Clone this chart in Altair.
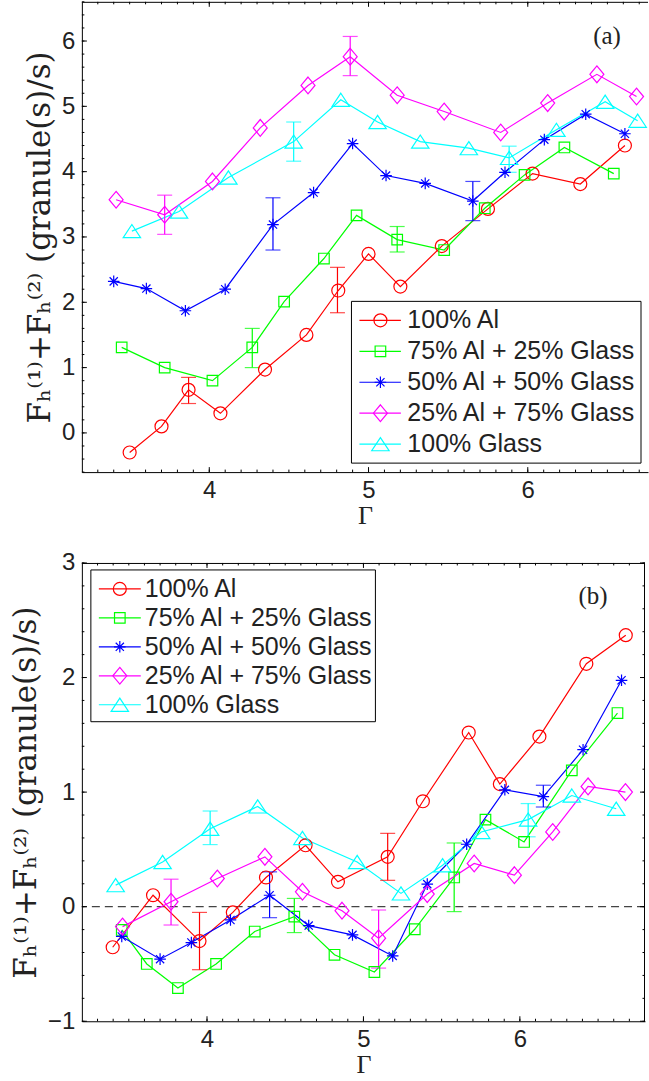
import altair as alt
import pandas as pd
import numpy as np

# ---------------- data ----------------
names = ["100% Al", "75% Al + 25% Glass", "50% Al + 50% Glass",
         "25% Al + 75% Glass", "100% Glass"]
colors = ["#ff0000", "#00ff00", "#0000ff", "#ff00ff", "#00ffff"]

# panel (a)
a_al_x = [3.50, 3.70, 3.87, 4.07, 4.35, 4.61, 4.81, 5.00, 5.20, 5.46, 5.75, 6.03, 6.33, 6.61]
a_al_y = [-0.30, 0.10, 0.66, 0.30, 0.97, 1.50, 2.18, 2.74, 2.24, 2.86, 3.43, 3.97, 3.81, 4.40]
a_g25_x = [3.45, 3.72, 4.02, 4.27, 4.47, 4.72, 4.925, 5.18, 5.475, 5.73, 5.98, 6.23, 6.54]
a_g25_y = [1.31, 1.00, 0.80, 1.31, 2.01, 2.67, 3.33, 2.96, 2.80, 3.44, 3.95, 4.37, 3.97]
a_g50_x = [3.40, 3.605, 3.85, 4.10, 4.40, 4.655, 4.90, 5.11, 5.356, 5.655, 5.857, 6.104, 6.364, 6.61]
a_g50_y = [2.32, 2.21, 1.87, 2.20, 3.19, 3.68, 4.43, 3.94, 3.82, 3.55, 3.99, 4.49, 4.88, 4.58]
a_g75_x = [3.415, 3.72, 4.02, 4.32, 4.62, 4.885, 5.18, 5.475, 5.83, 6.125, 6.434, 6.683]
a_g75_y = [3.57, 3.34, 3.85, 4.67, 5.32, 5.76, 5.17, 4.92, 4.60, 5.05, 5.49, 5.15]
a_gl_x = [3.514, 3.81, 4.12, 4.53, 4.826, 5.057, 5.325, 5.63, 5.883, 6.18, 6.486, 6.69]
a_gl_y = [3.09, 3.39, 3.91, 4.46, 5.10, 4.76, 4.46, 4.36, 4.21, 4.64, 5.07, 4.78]

a_err_series = [names[0], names[0], names[1], names[1], names[2], names[2],
                names[3], names[3], names[4], names[4]]
a_err_x = [3.87, 4.805, 4.27, 5.18, 4.40, 5.655, 3.72, 4.885, 4.53, 5.883]
a_err_lo = [0.45, 1.84, 1.00, 2.77, 2.80, 3.25, 3.04, 5.47, 4.16, 3.99]
a_err_hi = [0.85, 2.535, 1.60, 3.16, 3.60, 3.85, 3.64, 6.07, 4.76, 4.39]

# panel (b)
b_al_x = [3.397, 3.655, 3.952, 4.165, 4.377, 4.63, 4.837, 5.155, 5.38, 5.673, 5.872, 6.125, 6.425, 6.677]
b_al_y = [-0.354, 0.10, -0.30, -0.05, 0.255, 0.536, 0.217, 0.435, 0.92, 1.52, 1.07, 1.485, 2.12, 2.37]
b_g25_x = [3.455, 3.615, 3.814, 4.058, 4.305, 4.558, 4.815, 5.07, 5.328, 5.58, 5.78, 6.027, 6.332, 6.624]
b_g25_y = [-0.203, -0.50, -0.71, -0.50, -0.217, -0.087, -0.42, -0.57, -0.197, 0.255, 0.76, 0.565, 1.19, 1.69]
b_g50_x = [3.455, 3.70, 3.90, 4.15, 4.40, 4.65, 4.93, 5.187, 5.408, 5.66, 5.904, 6.15, 6.404, 6.65]
b_g50_y = [-0.26, -0.458, -0.313, -0.116, 0.10, -0.165, -0.246, -0.43, 0.197, 0.545, 1.02, 0.96, 1.37, 1.976]
b_g75_x = [3.46, 3.77, 4.066, 4.37, 4.61, 4.863, 5.097, 5.408, 5.708, 5.965, 6.21, 6.436, 6.675]
b_g75_y = [-0.174, 0.043, 0.246, 0.435, 0.13, -0.035, -0.275, 0.11, 0.377, 0.275, 0.652, 1.05, 1.00]
b_gl_x = [3.416, 3.716, 4.02, 4.324, 4.61, 4.96, 5.24, 5.506, 5.753, 6.053, 6.332, 6.616]
b_gl_y = [0.188, 0.39, 0.68, 0.875, 0.60, 0.39, 0.116, 0.362, 0.652, 0.76, 0.97, 0.855]

b_err_series = a_err_series
b_err_x = [3.952, 5.155, 4.558, 5.58, 4.40, 6.15, 3.77, 5.097, 4.02, 6.053]
b_err_lo = [-0.55, 0.23, -0.226, -0.043, -0.096, 0.87, -0.16, -0.536, 0.542, 0.61]
b_err_hi = [-0.05, 0.64, 0.072, 0.556, 0.304, 1.06, 0.24, -0.029, 0.835, 0.90]

zero_ref = [0.0]
x_major = [4, 5, 6]
a_y_major = [0, 1, 2, 3, 4, 5, 6]
b_y_major = [-1, 0, 1, 2, 3]
panel_tags = ["(a)", "(b)"]
y_title = "Fₕ⁽¹⁾+Fₕ⁽²⁾  (granule(s)/s)"
x_title = "Γ"

# ---------------- styles ----------------
# marker outlines in units of 10 px (symbol size 400)
CIRC = "M0.65,0A0.65,0.65 0 1,1 -0.65,0A0.65,0.65 0 1,1 0.65,0Z"
SQR = "M-0.53,-0.53L0.53,-0.53L0.53,0.53L-0.53,0.53Z"
STAR = "M-0.58,0L0.58,0M0,-0.58L0,0.58M-0.41,-0.41L0.41,0.41M-0.41,0.41L0.41,-0.41"
DIAM = "M0,-0.84L0.70,0L0,0.84L-0.70,0Z"
TRI = "M0,-0.66L0.87,0.66L-0.87,0.66Z"
shapes = [CIRC, SQR, STAR, DIAM, TRI]
MSIZE = 400

SANS = "Liberation Sans"
SERIF = "DejaVu Serif"

col = alt.Color("series:N", scale=alt.Scale(domain=names, range=colors), legend=None)
shp = alt.Shape("series:N", scale=alt.Scale(domain=names, range=shapes), legend=None)


def long_df(xs_list, ys_list):
    rows = []
    for n, xs, ys in zip(names, xs_list, ys_list):
        for x, y in zip(xs, ys):
            rows.append({"series": n, "g": x, "v": y})
    return pd.DataFrame(rows)


def make_panel(df, err, ydom, yvals, W, H, xmax, tag, tagxy, leg, right_frame, zero):
    xs = alt.Scale(domain=[3.2, xmax], nice=False, zero=False)
    ys = alt.Scale(domain=ydom, nice=False, zero=False)
    xaxis = alt.Axis(values=x_major, title=x_title, format="d")
    yaxis = alt.Axis(values=yvals, title=y_title, format="d")

    def X(f):
        return alt.X(f, type="quantitative", scale=xs, axis=xaxis)

    def Y(f):
        return alt.Y(f, type="quantitative", scale=ys, axis=yaxis)

    base = alt.Chart(df)
    lines = base.mark_line(strokeWidth=1.2).encode(x=X("g"), y=Y("v"), color=col)
    pts = base.mark_point(filled=False, strokeWidth=1.2, opacity=1, size=MSIZE).encode(
        x=X("g"), y=Y("v"), color=col, shape=shp)
    erule = alt.Chart(err).mark_rule(strokeWidth=1.2).encode(
        x=X("g"), y=Y("lo"), y2="hi", color=col)
    ecap = alt.Chart(err).transform_fold(["lo", "hi"], as_=["end", "val"]).mark_tick(
        orient="horizontal", size=15, thickness=1.2).encode(x=X("g"), y=Y("val:Q"), color=col)

    # inward ticks
    xmin_t = pd.DataFrame({"t": np.round(np.arange(3.3, xmax, 0.1), 2)})
    xmaj_t = pd.DataFrame({"t": x_major})
    ymin_t = pd.DataFrame({"t": np.round(np.arange(ydom[0], ydom[1] + 1e-9, 0.2), 2)})
    ymaj_t = pd.DataFrame({"t": yvals})
    tk = []
    for d, L in [(xmin_t, 2.5), (xmaj_t, 5)]:
        tk.append(alt.Chart(d).mark_rule(color="black", strokeWidth=1).encode(
            x=X("t"), y=alt.value(H), y2=alt.value(H - L)))
        tk.append(alt.Chart(d).mark_rule(color="black", strokeWidth=1).encode(
            x=X("t"), y=alt.value(0), y2=alt.value(L)))
    for d, L in [(ymin_t, 2.5), (ymaj_t, 5)]:
        tk.append(alt.Chart(d).mark_rule(color="black", strokeWidth=1).encode(
            y=Y("t"), x=alt.value(0), x2=alt.value(L)))
        if right_frame:
            tk.append(alt.Chart(d).mark_rule(color="black", strokeWidth=1).encode(
                y=Y("t"), x=alt.value(W), x2=alt.value(W - L)))

    one = pd.DataFrame({"tag": [tag]})
    frames = [alt.Chart(one).mark_rule(color="black", strokeWidth=1).encode(
        x=alt.value(0), x2=alt.value(W), y=alt.value(0.5))]
    if right_frame:
        frames.append(alt.Chart(one).mark_rule(color="black", strokeWidth=1).encode(
            x=alt.value(W - 0.5), y=alt.value(0), y2=alt.value(H)))

    tagtxt = alt.Chart(one).mark_text(font="Liberation Serif", fontSize=25, color="#222",
                                      align="center", baseline="middle").encode(
        x=alt.value(tagxy[0]), y=alt.value(tagxy[1]), text="tag:N")

    layers = [lines, erule, ecap, pts] + tk + frames + [tagtxt]
    if zero:
        zr = alt.Chart(pd.DataFrame({"z": zero_ref})).mark_rule(
            color="#444", strokeWidth=1.2, strokeDash=[8, 5]).encode(y=Y("z"))
        layers = [zr] + layers
    data_layer = alt.layer(*layers)

    # legend
    bx0, bx1, by0, by1, r0, r1, s0, s1, mx, tx = leg
    ndf = pd.DataFrame({"series": names})
    ly = alt.Y("series:N", scale=alt.Scale(type="point", domain=names, range=[r0, r1], padding=0),
               axis=None)
    box = alt.Chart(one).mark_rect(fill="white", stroke="black", strokeWidth=1).encode(
        x=alt.value(bx0), x2=alt.value(bx1), y=alt.value(by0), y2=alt.value(by1))
    stubs = alt.Chart(ndf).mark_rule(strokeWidth=1.2).encode(
        x=alt.value(s0), x2=alt.value(s1), y=ly, color=col)
    lmk = alt.Chart(ndf).mark_point(filled=False, strokeWidth=1.2, opacity=1, size=MSIZE).encode(
        x=alt.value(mx), y=ly, color=col, shape=shp)
    ltx = alt.Chart(ndf).mark_text(align="left", baseline="middle", font=SANS,
                                   fontSize=25, color="#222").encode(
        x=alt.value(tx), y=ly, text="series:N")
    legend_layer = alt.layer(box, stubs, lmk, ltx)

    return alt.layer(data_layer, legend_layer).resolve_scale(y="independent").properties(
        width=W, height=H)


WA, HA = 567, 471
WB, HB = 564, 459

dfa = long_df([a_al_x, a_g25_x, a_g50_x, a_g75_x, a_gl_x],
              [a_al_y, a_g25_y, a_g50_y, a_g75_y, a_gl_y])
dfb = long_df([b_al_x, b_g25_x, b_g50_x, b_g75_x, b_gl_x],
              [b_al_y, b_g25_y, b_g50_y, b_g75_y, b_gl_y])
erra = pd.DataFrame({"series": a_err_series, "g": a_err_x, "lo": a_err_lo, "hi": a_err_hi})
errb = pd.DataFrame({"series": b_err_series, "g": b_err_x, "lo": b_err_lo, "hi": b_err_hi})

leg_a = (270, 560, 300, 462, 319, 443, 278, 319.5, 299, 326)
leg_b = (9, 294, 7, 159, 26, 142, 17, 59, 38, 63)

pa = make_panel(dfa, erra, [-0.6, 6.6], a_y_major, WA, HA, 6.755, panel_tags[0],
                (WA - 41, 34), leg_a, False, False)
pb = make_panel(dfb, errb, [-1, 3], b_y_major, WB, HB, 6.8, panel_tags[1],
                (WB - 52, 33), leg_b, True, True)

chart = alt.vconcat(pa, pb, spacing=23).properties(
    padding={"left": 10, "top": 0, "right": 0, "bottom": 0}
).configure_view(strokeWidth=0).configure_axis(
    grid=False, ticks=False, tickSize=0, domainColor="black", domainWidth=1,
    labelFont=SANS, labelFontSize=24, labelColor="#222", labelPadding=7,
    titleFont=SERIF, titleFontSize=31, titleFontWeight="normal", titleColor="#222",
    titlePadding=5
).configure_axisX(labelPadding=6, titlePadding=0, titleFont="Liberation Serif",
                  titleFontSize=26)

chart.save("out.html", embed_options={"renderer": "svg", "actions": False})
